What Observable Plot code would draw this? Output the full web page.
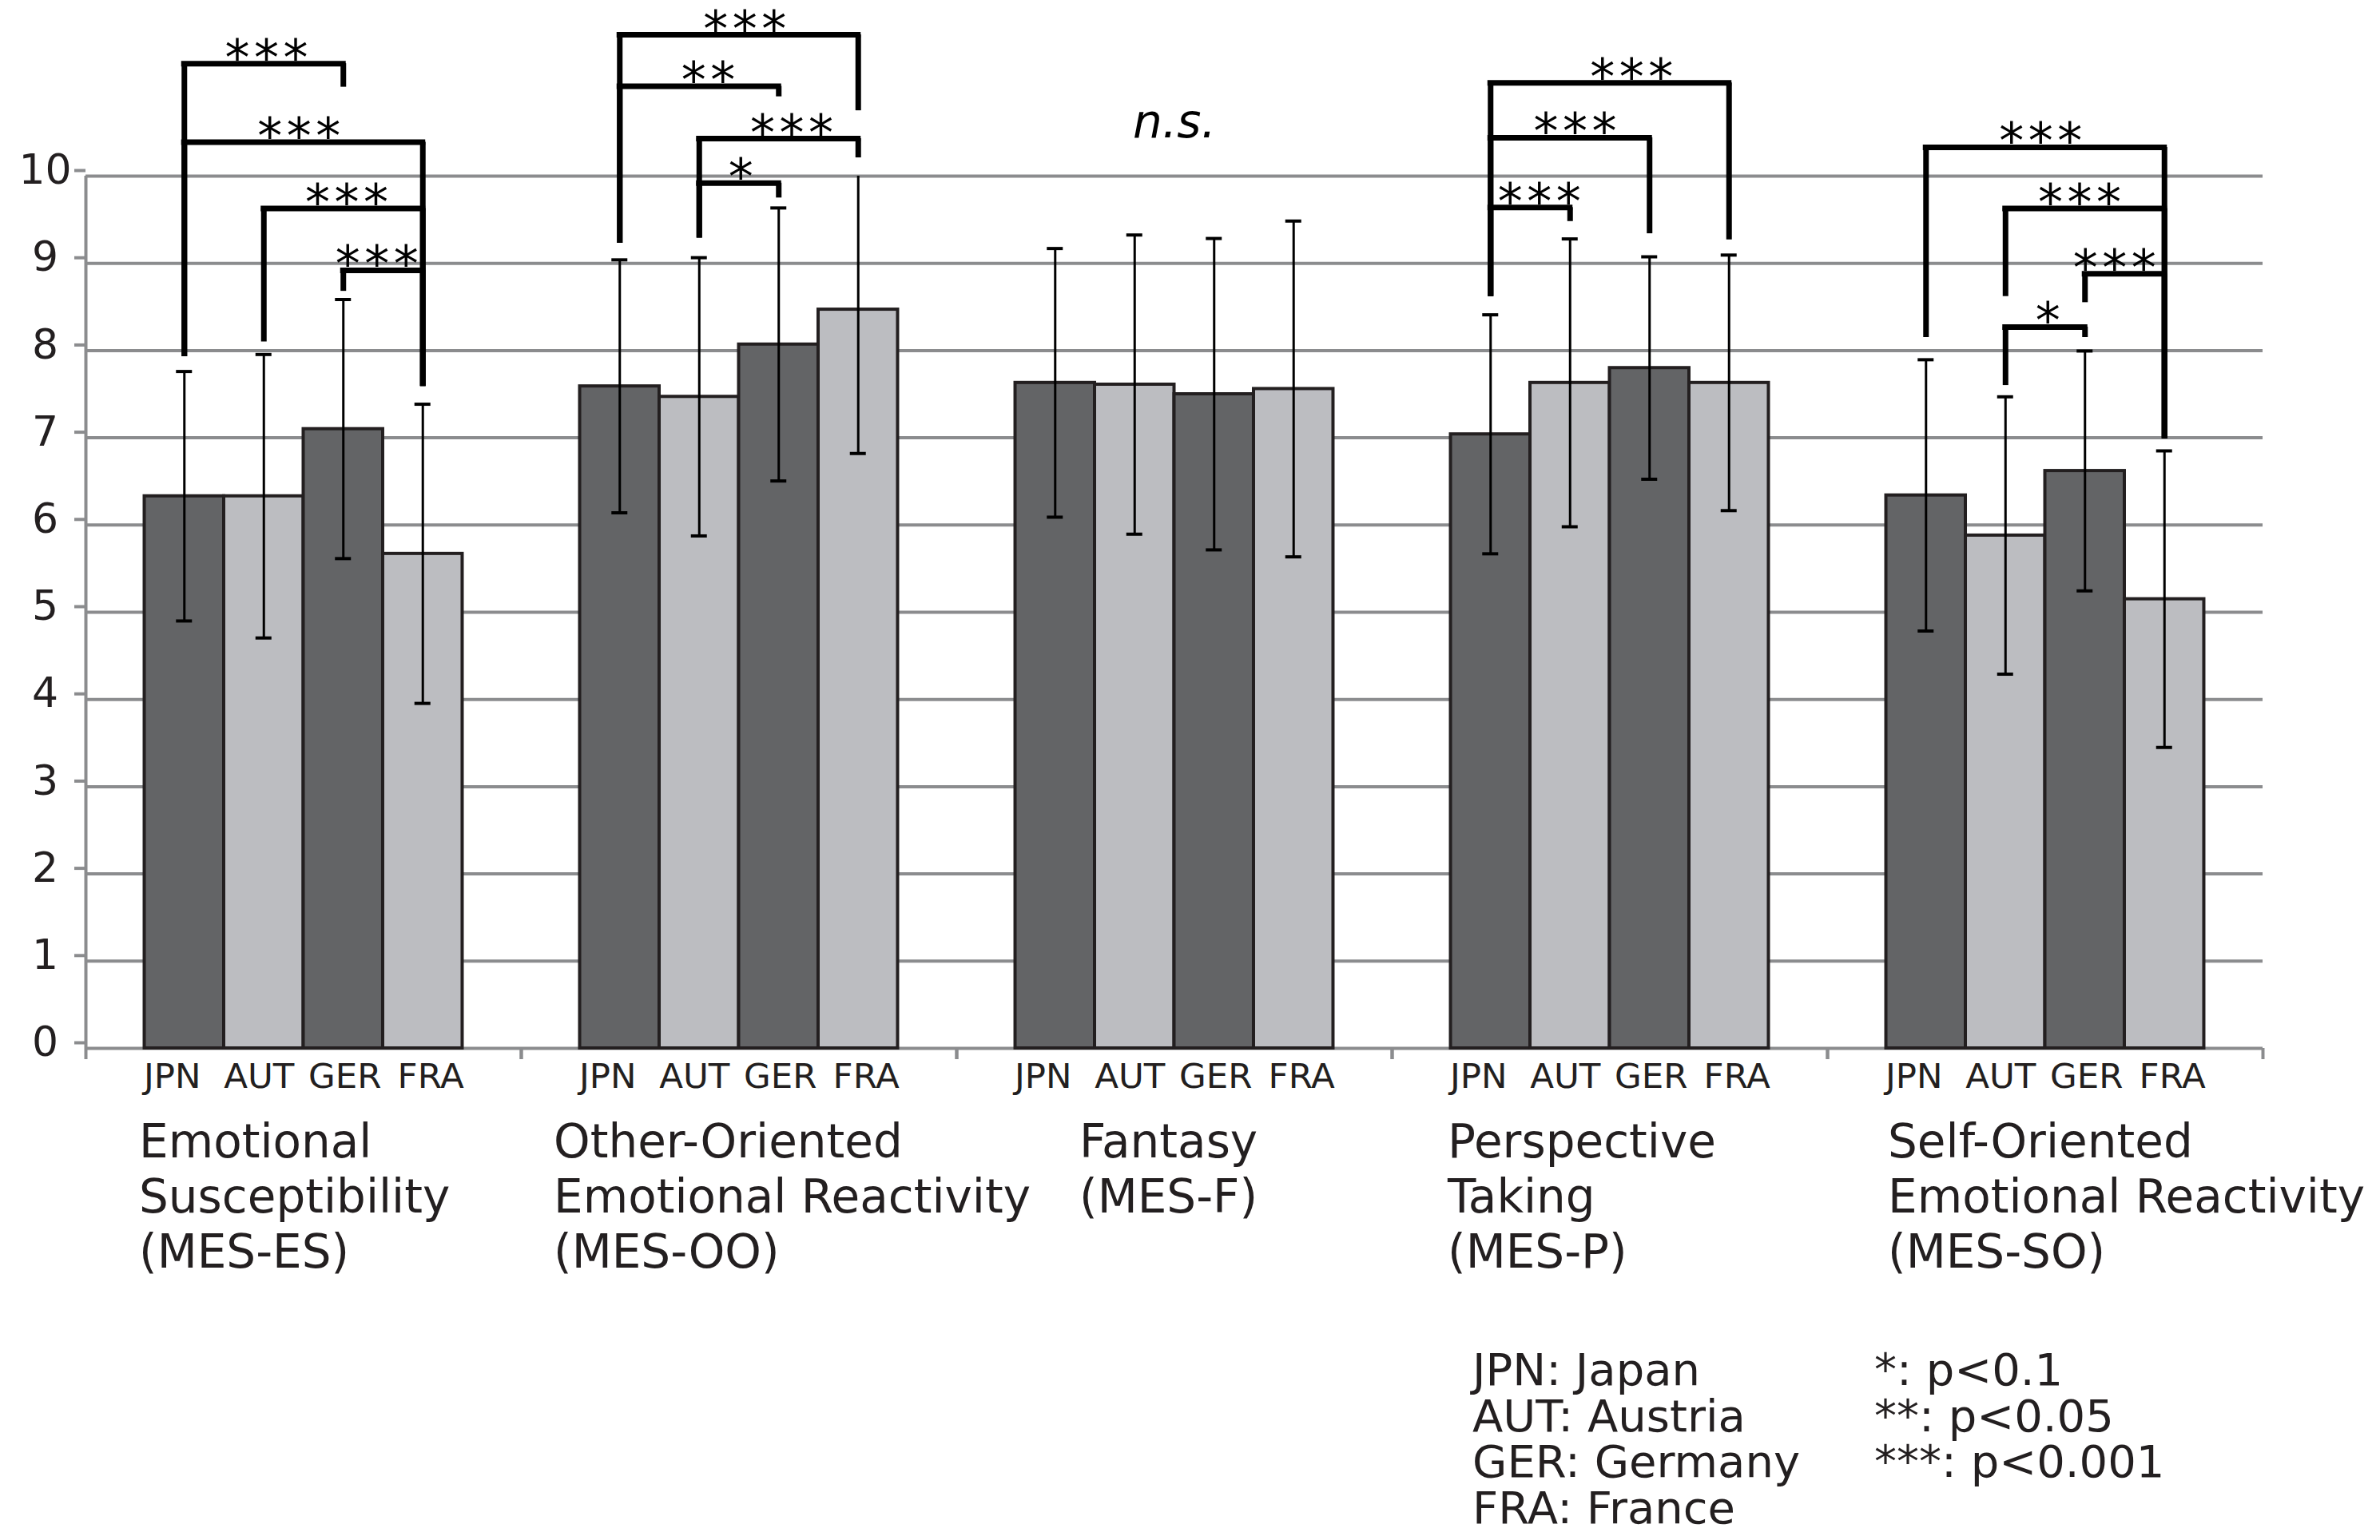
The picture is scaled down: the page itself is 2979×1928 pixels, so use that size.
<!DOCTYPE html>
<html>
<head>
<meta charset="utf-8">
<script src="https://cdn.jsdelivr.net/npm/d3@7"></script>
<script src="https://cdn.jsdelivr.net/npm/@observablehq/plot@0.6"></script>
<style>
html, body { margin: 0; padding: 0; background: #ffffff; }
#wrap { position: relative; width: 2979px; height: 1928px; overflow: hidden; font-family: "DejaVu Sans", sans-serif; color: #231f20; }
#wrap svg { position: absolute; left: 0; top: 0; }
.legend { position: absolute; font-size: 56px; line-height: 57.5px; white-space: pre; }
</style>
</head>
<body>
<div id="wrap"></div>
<script>
// ---------- data ----------
const categories = ["MES-ES", "MES-OO", "MES-F", "MES-P", "MES-SO"];
const categoryLabels = [
  "Emotional\nSusceptibility\n(MES-ES)",
  "Other-Oriented\nEmotional Reactivity\n(MES-OO)",
  "Fantasy\n(MES-F)",
  "Perspective\nTaking\n(MES-P)",
  "Self-Oriented\nEmotional Reactivity\n(MES-SO)"
];
const countries = ["JPN", "AUT", "GER", "FRA"];

// means per country, in category order
const meanJPN = [6.33, 7.59, 7.63, 7.04, 6.34];
const meanAUT = [6.33, 7.47, 7.61, 7.63, 5.88];
const meanGER = [7.10, 8.07, 7.50, 7.80, 6.62];
const meanFRA = [5.67, 8.47, 7.56, 7.63, 5.15];
// standard deviations per country
const sdJPN = [1.43, 1.45, 1.54, 1.37, 1.555];
const sdAUT = [1.625, 1.595, 1.715, 1.65, 1.59];
const sdGER = [1.485, 1.565, 1.785, 1.275, 1.375];
const sdFRA = [1.715, 1.65, 1.925, 1.465, 1.70];

const yTicks = [0, 1, 2, 3, 4, 5, 6, 7, 8, 9, 10];

// significance brackets
const bracketCategory = ["MES-ES","MES-ES","MES-ES","MES-ES","MES-OO","MES-OO","MES-OO","MES-OO","MES-P","MES-P","MES-P","MES-SO","MES-SO","MES-SO","MES-SO"];
const bracketFrom     = ["JPN","JPN","AUT","GER","JPN","JPN","AUT","AUT","JPN","JPN","JPN","JPN","AUT","GER","AUT"];
const bracketTo       = ["GER","FRA","FRA","FRA","FRA","GER","FRA","GER","FRA","GER","AUT","FRA","FRA","FRA","GER"];
const bracketLevel    = [11.29, 10.39, 9.63, 8.92, 11.62, 11.03, 10.43, 9.92, 11.07, 10.44, 9.64, 10.33, 9.63, 8.88, 8.27];
const bracketFromEnd  = [7.93, 7.93, 8.10, 8.68, 9.23, 9.23, 9.29, 9.29, 8.62, 8.62, 8.62, 8.15, 8.62, 8.55, 7.60];
const bracketToEnd    = [11.02, 7.59, 7.59, 7.59, 10.75, 10.91, 10.21, 9.75, 9.27, 9.34, 9.48, 6.99, 6.99, 6.99, 8.15];
const bracketLabel    = ["***","***","***","***","***","**","***","*","***","***","***","***","***","***","*"];

const nsCategory = "MES-F";
const nsLevel = 10.44;

const legendCountries = ["JPN: Japan", "AUT: Austria", "GER: Germany", "FRA: France"];
const legendSignificance = ["*: p<0.1", "**: p<0.05", "***: p<0.001"];

// ---------- layout / style ----------
const W = 2979, H = 1928;
const mL = 107, mR = 147, mT = 220, mB = 616;
const xMin = -1.239, xMax = 4.239;
const facetW = (W - mL - mR) / categories.length;
const pxPerUnit = facetW / (xMax - xMin);
const capHalf = 10 / pxPerUnit;
const gray = "#8b8c8e", ink = "#231f20";
const dark = "#636466", light = "#bcbdc1";
const labelDx = [-7, -33, 80, -4, 2];
const countryDx = [-15, -6, 2, 10];
// horizontal nudge (px) of each bracket's asterisks, as placed in the original figure
const starNudge = [6, -3, 7, -5, 10, 14, 19, 5, 30, 9, 14, -3, -4, -10, 6];

// ---------- tables ----------
const means = [meanJPN, meanAUT, meanGER, meanFRA];
const sds = [sdJPN, sdAUT, sdGER, sdFRA];
const rows = categories.flatMap((cat, k) =>
  countries.map((country, i) => ({cat, country, i, mean: means[i][k], sd: sds[i][k]})));
const idx = c => countries.indexOf(c);
const brackets = bracketCategory.map((cat, j) => ({
  cat, from: idx(bracketFrom[j]), to: idx(bracketTo[j]),
  level: bracketLevel[j], fromEnd: bracketFromEnd[j], toEnd: bracketToEnd[j], label: bracketLabel[j],
  nudge: starNudge[j]
}));
const legs = brackets.flatMap(b => [
  {cat: b.cat, x: b.from, top: b.level, bottom: b.fromEnd},
  {cat: b.cat, x: b.to, top: b.level, bottom: b.toEnd}
]);

const plot = Plot.plot({
  width: W, height: H,
  marginLeft: mL, marginRight: mR, marginTop: mT, marginBottom: mB,
  style: {fontFamily: "DejaVu Sans, sans-serif", background: "white", color: ink, overflow: "visible"},
  fx: {domain: categories, padding: 0, axis: null, label: null},
  x: {domain: [xMin, xMax], label: null},
  y: {domain: [0, 10], label: null},
  color: {domain: countries, range: [dark, light, dark, light]},
  marks: [
    Plot.ruleY(yTicks, {y: d => d, stroke: gray, strokeWidth: 4}),
    Plot.ruleX([categories[0]], {fx: d => d, x: () => xMin, y1: () => 0, y2: () => 10, stroke: gray, strokeWidth: 4}),
    Plot.axisY({ticks: yTicks, tickSize: 14, tickPadding: 37, textAnchor: "middle", fontSize: 52, stroke: gray, strokeWidth: 4, fill: ink, dy: -7, tickFormat: d => String(d), label: null}),
    Plot.axisX({ticks: [xMin, xMax], tickSize: 14, tickFormat: () => "", stroke: gray, strokeWidth: 4, label: null}),
    Plot.rectY(rows, {fx: "cat", x1: d => d.i - 0.5, x2: d => d.i + 0.5, y1: () => 0, y2: "mean", fill: "country", stroke: ink, strokeWidth: 4}),
    Plot.ruleX(rows, {fx: "cat", x: "i", y1: d => d.mean - d.sd, y2: d => d.mean + d.sd, stroke: "#000", strokeWidth: 3, clip: true}),
    Plot.ruleY(rows, {fx: "cat", x1: d => d.i - capHalf, x2: d => d.i + capHalf, y: d => d.mean + d.sd, stroke: "#000", strokeWidth: 4, clip: true}),
    Plot.ruleY(rows, {fx: "cat", x1: d => d.i - capHalf, x2: d => d.i + capHalf, y: d => d.mean - d.sd, stroke: "#000", strokeWidth: 4, clip: true}),
    Plot.ruleX(legs, {fx: "cat", x: "x", y1: "top", y2: "bottom", stroke: "#000", strokeWidth: 7}),
    Plot.ruleY(brackets, {fx: "cat", x1: "from", x2: "to", y: "level", stroke: "#000", strokeWidth: 7, strokeLinecap: "square"}),
    Plot.text(brackets, {fx: "cat", x: d => (d.from + d.to) / 2 + d.nudge / pxPerUnit, y: "level", text: "label", dy: 14, lineAnchor: "bottom", fontSize: 62, fill: "#000"}),
    Plot.text([nsCategory], {fx: d => d, x: () => 1.5, y: () => nsLevel, text: () => "n.s.", fontStyle: "italic", fontSize: 58, lineAnchor: "bottom", fill: "#000"}),
    ...countries.map((c, i) => Plot.text([c], {x: () => i, y: () => 0, text: d => d, fontSize: 43.5, lineAnchor: "top", dy: 19, dx: countryDx[i], fill: ink})),
    ...categories.map((c, k) => Plot.text([categoryLabels[k]], {
      fx: () => c, x: () => -0.5, y: () => 0, text: d => d,
      textAnchor: "start", lineAnchor: "top", lineHeight: 1.193,
      dx: labelDx[k], dy: 87, fontSize: 58, fill: ink
    }))
  ]
});

// widen the spacing between the significance asterisks
d3.select(plot).selectAll("text")
  .filter(function () { return /^\*+$/.test(this.textContent); })
  .style("letter-spacing", "5.5px");

const wrap = document.getElementById("wrap");
wrap.appendChild(plot);

function addLegend(lines, left) {
  const div = document.createElement("div");
  div.className = "legend";
  div.style.left = left + "px";
  div.style.top = "1686px";
  div.textContent = lines.join("\n");
  wrap.appendChild(div);
}
addLegend(legendCountries, 1843);
addLegend(legendSignificance, 2346);
</script>
</body>
</html>
